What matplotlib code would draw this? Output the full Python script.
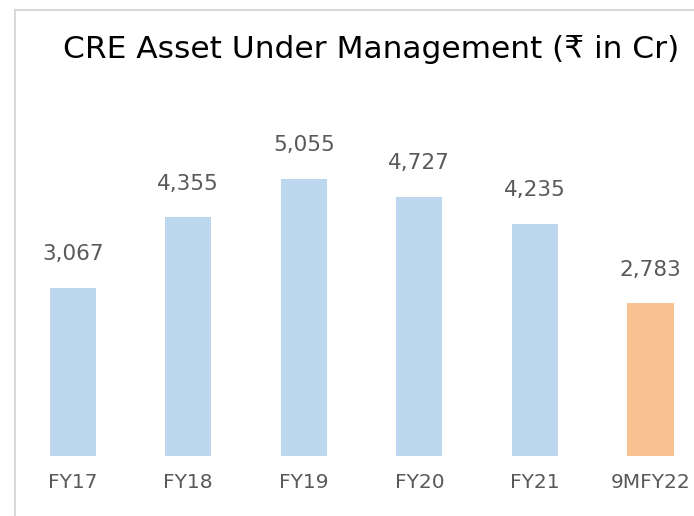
import matplotlib.pyplot as plt
from matplotlib.lines import Line2D

# AUM by year, in crore rupees
years = ['FY17', 'FY18', 'FY19', 'FY20', 'FY21', '9MFY22']
aum = [3067, 4355, 5055, 4727, 4235, 2783]

blue = '#BDD7EE'
orange = '#F9C290'
grey_txt = '#595959'

W, H = 694, 516
fig = plt.figure(figsize=(W / 100, H / 100), dpi=100)
ax = fig.add_axes([15 / W, 60 / H, 1 - 15 / W, 446 / H])

colors = [blue] * (len(years) - 1) + [orange]
x = range(len(years))
bars = ax.bar(x, aum, width=0.4, color=colors)

for b, v in zip(bars, aum):
    ax.annotate(f'{v:,}', (b.get_x() + b.get_width() / 2, v),
                xytext=(0, 17), textcoords='offset points',
                ha='center', va='bottom', fontsize=15.5, color=grey_txt)

ax.set_xlim(-0.5, 5.377)
ax.set_ylim(0, 8139)
ax.set_xticks(list(x))
ax.set_xticklabels(years)
ax.tick_params(axis='x', length=0, pad=12, labelsize=14.5, labelcolor=grey_txt)
ax.set_yticks([])
for s in ax.spines.values():
    s.set_visible(False)

# slide frame lines on the left and top
fig.add_artist(Line2D([15 / W, 15 / W], [0, 1 - 10 / H], color='#D9D9D9', lw=1.5,
                      transform=fig.transFigure))
fig.add_artist(Line2D([15 / W, 1], [1 - 10 / H, 1 - 10 / H], color='#D9D9D9', lw=1.5,
                      transform=fig.transFigure))

fig.text(371 / W, 1 - 50 / H, 'CRE Asset Under Management (₹ in Cr)',
         ha='center', va='center', fontsize=22.5, color='black')

fig.savefig('out.png', dpi=100)
